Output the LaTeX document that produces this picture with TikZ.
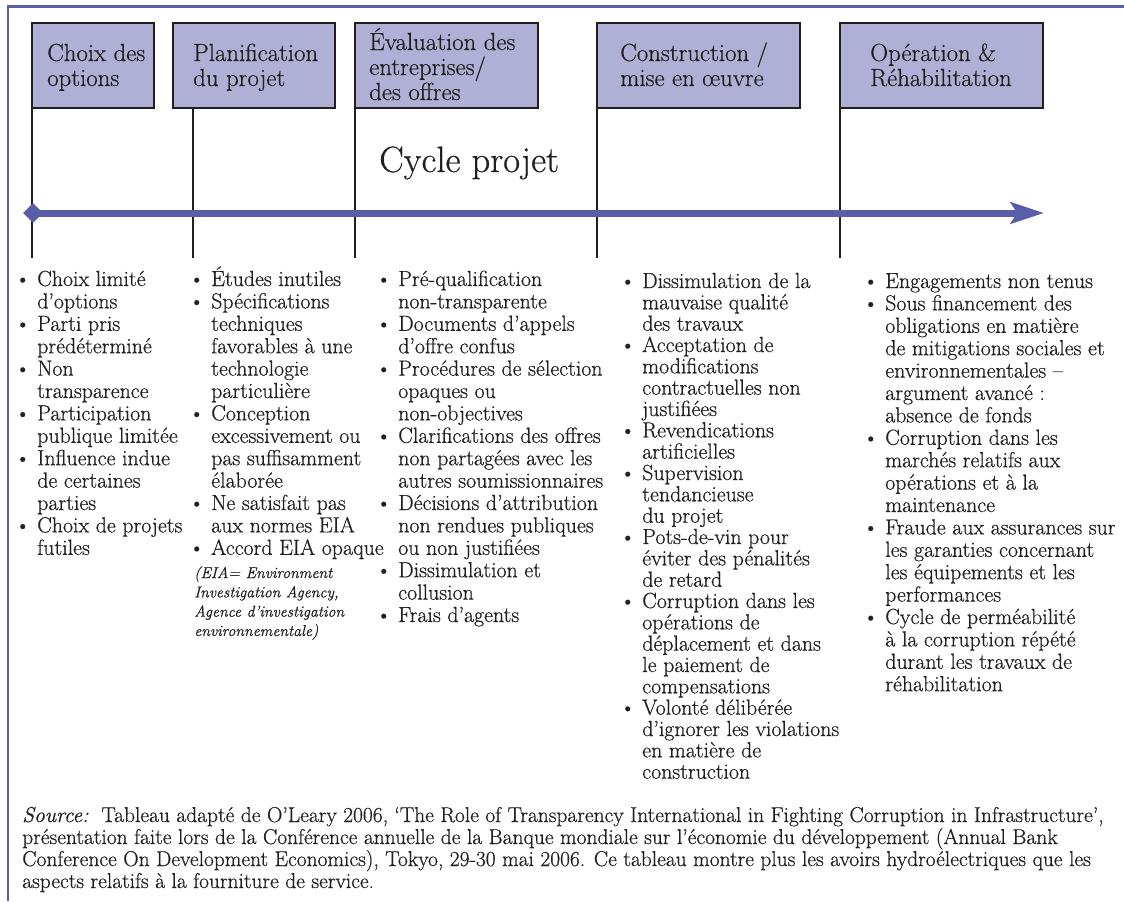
\documentclass[tikz,border=0pt]{standalone}
\usepackage{fontspec}
\setmainfont{Latin Modern Roman}[FakeBold=0.6]
\usetikzlibrary{arrows.meta,shapes.geometric}

\definecolor{cycleblue}{RGB}{90,94,168}
\definecolor{phasefill}{RGB}{176,176,214}
\definecolor{inkgray}{RGB}{35,31,32}

% bullet hanging to the left of the item text
\newcommand{\itm}{\leavevmode\llap{\textbullet\kern5pt}}
\newcommand{\colbox}[2]{\parbox[t]{#1}{\raggedright #2}}

\begin{document}
\begin{tikzpicture}[x=0.75pt,y=-0.75pt,
  every node/.style={text=inkgray},
  phase/.style={draw=inkgray, line width=1.5pt, fill=phasefill, inner sep=0pt, minimum height=63.75pt},
  phasetext/.style={anchor=base west, inner sep=0pt, font=\fontsize{18.6}{18.75}\selectfont},
  risklist/.style={anchor=base west, inner sep=0pt, font=\fontsize{16.4}{16.8}\selectfont},
  stem/.style={draw=inkgray, line width=1.2pt},
  frame/.style={draw=cycleblue, line width=2.2pt}]

\useasboundingbox (0,0) rectangle (1124,901);

% outer frame (top and left edges)
\coordinate (frameBL) at (8,901);
\coordinate (frameTL) at (8,6.2);
\coordinate (frameTR) at (1124,6.2);
\draw[frame] (frameBL) -- (frameTL) -- (frameTR);

% phase boxes
\node[phase, minimum width=91.5pt]   (b1) at (93,65.5)   {};
\node[phase, minimum width=121.5pt]  (b2) at (254,65.5)  {};
\node[phase, minimum width=137.25pt] (b3) at (446.5,65.5) {};
\node[phase, minimum width=152.25pt] (b4) at (698.5,65.5) {};
\node[phase, minimum width=152.25pt] (b5) at (941.5,65.5) {};

\node[phasetext] (h1) at (47,61)  {\colbox{120pt}{Choix des\\options}};
\node[phasetext] (h2) at (193,61) {\colbox{120pt}{Planification\\du projet}};
\node[phasetext] (h3) at (369,50) {\colbox{140pt}{Évaluation des\\entreprises/\\des offres}};
\node[phasetext] (h4) at (620,61) {\colbox{150pt}{Construction /\\mise en œuvre}};
\node[phasetext] (h5) at (870,61) {\colbox{150pt}{Opération \&\\Réhabilitation}};

% stems from the phases down across the time line
\coordinate (s1a) at (32,108);  \coordinate (s1b) at (32,258);
\coordinate (s2a) at (193,108); \coordinate (s2b) at (193,258);
\coordinate (s3a) at (355,108); \coordinate (s3b) at (355,258);
\coordinate (s4a) at (597,108); \coordinate (s4b) at (597,258);
\coordinate (s5a) at (840,108); \coordinate (s5b) at (840,258);
\foreach \i in {1,...,5} \draw[stem] (s\i a) -- (s\i b);

% time line
\node[anchor=base west, inner sep=0pt, font=\fontsize{27.5}{30}\selectfont] (cycle) at (379,172) {Cycle projet};
\node[diamond, fill=cycleblue, inner sep=0pt, minimum width=15pt, minimum height=15pt] (start) at (33,213) {};
\coordinate (tip) at (1044,213);
\draw[cycleblue, line width=5.25pt, -{Stealth[length=25pt,width=16pt,inset=5pt]}] (start.center) -- (tip);

% risks for each phase
\node[risklist] (r1) at (37,286) {\colbox{160pt}{%
\itm Choix limité\\
d’options\\
\itm Parti pris\\
prédéterminé\\
\itm Non\\
transparence\\
\itm Participation\\
publique limitée\\
\itm Influence indue\\
de certaines\\
parties\\
\itm Choix de projets\\
futiles}};

\node[risklist] (r2) at (211,286) {\colbox{160pt}{%
\itm Études inutiles\\
\itm Spécifications\\
techniques\\
favorables à une\\
technologie\\
particulière\\
\itm Conception\\
excessivement ou\\
pas suffisamment\\
élaborée\\
\itm Ne satisfait pas\\
aux normes EIA\\
\itm Accord EIA opaque}};

\node[anchor=base west, inner sep=0pt, font=\fontsize{11.8}{14.5}\selectfont\itshape] (eia) at (194,578) {\colbox{160pt}{%
(EIA= Environment\\
Investigation Agency,\\
Agence d’investigation\\
environnementale)}};

\node[risklist] (r3) at (398,286) {\colbox{200pt}{%
\itm Pré-qualification\\
non-transparente\\
\itm Documents d’appels\\
d’offre confus\\
\itm Procédures de sélection\\
opaques ou\\
non-objectives\\
\itm Clarifications des offres\\
non partagées avec les\\
autres soumissionnaires\\
\itm Décisions d’attribution\\
non rendues publiques\\
ou non justifiées\\
\itm Dissimulation et\\
collusion\\
\itm Frais d’agents}};

\node[risklist, font=\fontsize{16.4}{16}\selectfont] (r4) at (642,288) {\colbox{200pt}{%
\itm Dissimulation de la\\
mauvaise qualité\\
des travaux\\
\itm Acceptation de\\
modifications\\
contractuelles non\\
justifiées\\
\itm Revendications\\
artificielles\\
\itm Supervision\\
tendancieuse\\
du projet\\
\itm Pots-de-vin pour\\
éviter des pénalités\\
de retard\\
\itm Corruption dans les\\
opérations de\\
déplacement et dans\\
le paiement de\\
compensations\\
\itm Volonté délibérée\\
d’ignorer les violations\\
en matière de\\
construction}};

\node[risklist] (r5) at (885,288) {\colbox{200pt}{%
\itm Engagements non tenus\\
\itm Sous financement des\\
obligations en matière\\
de mitigations sociales et\\
environnementales –\\
argument avancé :\\
absence de fonds\\
\itm Corruption dans les\\
marchés relatifs aux\\
opérations et à la\\
maintenance\\
\itm Fraude aux assurances sur\\
les garanties concernant\\
les équipements et les\\
performances\\
\itm Cycle de perméabilité\\
à la corruption répété\\
durant les travaux de\\
réhabilitation}};

% source note
\node[anchor=base west, inner sep=0pt, font=\fontsize{16.1}{16.5}\selectfont] (src) at (22,822) {\colbox{880pt}{%
\textit{Source:}\ \ Tableau adapté de O’Leary 2006, ‘The Role of Transparency International in Fighting Corruption in Infrastructure’,\\
présentation faite lors de la Conférence annuelle de la Banque mondiale sur l’économie du développement (Annual Bank\\
Conference On Development Economics), Tokyo, 29-30 mai 2006. Ce tableau montre plus les avoirs hydroélectriques que les\\
aspects relatifs à la fourniture de service.}};
\end{tikzpicture}
\end{document}
